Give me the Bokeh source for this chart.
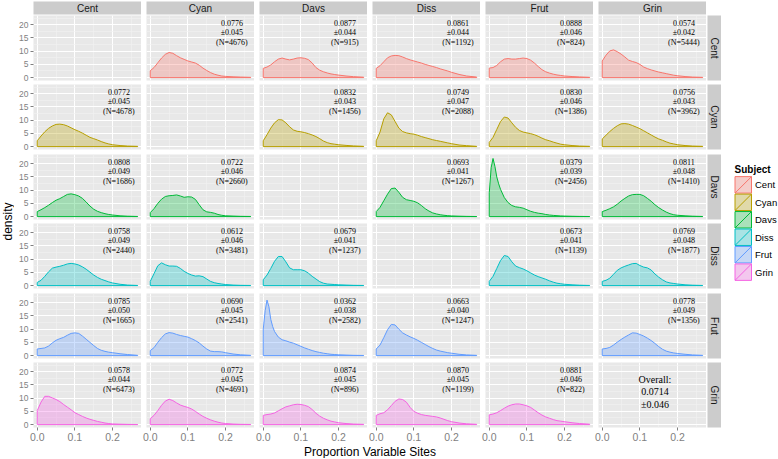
import math
from bokeh.plotting import figure
from bokeh.models import Range1d, FixedTicker, PrintfTickFormatter, GridPlot
from bokeh.core.properties import value
from bokeh.embed import file_html
from bokeh.resources import INLINE

# ---------------- data ----------------
CATS = ["Cent", "Cyan", "Davs", "Diss", "Frut", "Grin"]
COLORS = ["#F8766D", "#B79F00", "#00BA38", "#00BFC4", "#619CFF", "#F564E3"]

X_TICKS = [0.0, 0.1, 0.2]
X_MINOR = [0.05, 0.15, 0.25]
Y_TICKS = [0, 5, 10, 15, 20]
Y_MINOR = [2.5, 7.5, 12.5, 17.5, 22.5]

# common x grid of the density curves (proportion variable sites)
X_GRID = [0.0, 0.01, 0.02, 0.03, 0.04, 0.05, 0.06, 0.07, 0.08, 0.09, 0.10,
          0.11, 0.12, 0.13, 0.14, 0.15, 0.16, 0.17, 0.18, 0.19, 0.20,
          0.22, 0.24, 0.267]
# finer grid for the two very peaked curves
X_FINE = [0.0, 0.005, 0.01, 0.015, 0.02, 0.025, 0.03, 0.04, 0.05, 0.06, 0.07,
          0.08, 0.09, 0.10, 0.11, 0.12, 0.13, 0.14, 0.15, 0.16, 0.17, 0.18,
          0.19, 0.20, 0.22, 0.24, 0.267]

# density values, row facet _ column facet
CENT_CYAN = [2.6, 3.8, 5.6, 7.4, 8.8, 9.5, 9.2, 8.3, 7.5, 6.9, 6.3, 5.9, 5.5, 4.7, 3.6, 2.7, 1.9, 1.3, 0.9, 0.6, 0.45, 0.3, 0.2, 0.1]
CENT_DAVS = [3.5, 4.0, 4.8, 6.0, 7.0, 7.4, 7.0, 6.7, 7.0, 7.4, 7.5, 7.3, 6.8, 5.5, 3.8, 2.8, 2.2, 1.75, 1.4, 1.15, 0.95, 0.6, 0.35, 0.15]
CENT_DISS = [3.5, 4.5, 6.0, 7.5, 8.2, 8.4, 8.3, 7.8, 7.2, 6.7, 6.3, 5.9, 5.5, 5.0, 4.6, 4.2, 3.8, 3.3, 2.9, 2.5, 2.0, 1.2, 0.6, 0.2]
CENT_FRUT = [3.6, 3.8, 4.6, 6.0, 7.0, 7.2, 7.0, 7.0, 7.2, 7.4, 7.2, 6.6, 5.5, 4.2, 3.0, 2.2, 1.7, 1.3, 1.0, 0.8, 0.6, 0.4, 0.25, 0.1]
CENT_GRIN = [6.3, 8.5, 10.1, 10.5, 9.8, 8.9, 7.8, 6.6, 6.1, 5.7, 5.0, 4.0, 3.4, 2.9, 2.5, 2.1, 1.8, 1.5, 1.2, 0.9, 0.7, 0.4, 0.2, 0.1]

CYAN_CENT = [2.2, 4.0, 5.6, 6.9, 7.8, 8.4, 8.5, 8.3, 7.8, 7.1, 6.4, 5.8, 5.1, 4.3, 3.5, 3.0, 2.5, 1.9, 1.4, 1.0, 0.7, 0.4, 0.2, 0.1]
CYAN_DAVS = [2.2, 4.5, 7.0, 9.0, 10.2, 10.1, 9.0, 7.5, 6.3, 5.8, 5.6, 5.3, 4.9, 4.4, 3.8, 3.0, 2.1, 1.5, 1.1, 0.9, 0.7, 0.45, 0.25, 0.1]
CYAN_DISS = [2.2, 5.5, 10.5, 12.8, 12.0, 9.5, 7.0, 5.7, 5.2, 4.9, 4.7, 4.3, 3.8, 3.4, 3.0, 2.6, 2.3, 2.0, 1.7, 1.4, 1.1, 0.6, 0.35, 0.1]
CYAN_FRUT = [1.6, 3.5, 6.5, 9.5, 11.2, 10.8, 9.0, 7.3, 6.1, 5.5, 5.2, 4.9, 4.5, 3.9, 3.2, 2.6, 2.2, 1.7, 1.3, 0.9, 0.7, 0.4, 0.2, 0.1]
CYAN_GRIN = [2.9, 4.3, 5.7, 6.9, 7.9, 8.6, 8.7, 8.5, 8.0, 7.4, 6.8, 6.0, 5.2, 4.4, 3.6, 2.9, 2.4, 1.8, 1.3, 1.0, 0.7, 0.4, 0.2, 0.1]

DAVS_CENT = [1.9, 2.6, 3.4, 4.3, 5.3, 6.2, 6.8, 7.6, 8.4, 8.6, 8.3, 7.8, 6.9, 5.5, 4.0, 2.8, 2.0, 1.5, 1.1, 0.8, 0.6, 0.3, 0.15, 0.05]
DAVS_CYAN = [1.5, 3.0, 5.0, 6.6, 7.6, 7.9, 8.0, 8.2, 7.8, 7.3, 7.5, 7.4, 6.5, 4.5, 2.6, 1.8, 1.6, 1.3, 0.8, 0.5, 0.3, 0.2, 0.1, 0.05]
DAVS_DISS = [1.9, 3.5, 6.0, 8.5, 10.6, 10.8, 9.2, 7.3, 6.4, 6.1, 5.8, 5.2, 4.2, 3.0, 2.1, 1.4, 1.0, 0.7, 0.5, 0.35, 0.25, 0.15, 0.08, 0.03]
DAVS_FRUT = [9.0, 18.5, 22.0, 19.0, 15.0, 12.4, 10.3, 7.2, 5.3, 4.2, 3.7, 3.5, 3.2, 2.6, 2.0, 1.6, 1.3, 1.1, 0.8, 0.6, 0.45, 0.35, 0.25, 0.2, 0.12, 0.07, 0.03]
DAVS_GRIN = [1.9, 2.4, 3.0, 3.7, 4.7, 5.9, 6.9, 7.8, 8.3, 8.4, 8.4, 7.9, 6.9, 5.8, 4.5, 3.4, 2.5, 1.7, 1.1, 0.7, 0.5, 0.3, 0.15, 0.05]

DISS_CENT = [1.2, 2.0, 3.5, 5.2, 6.6, 7.0, 7.3, 7.7, 8.2, 8.4, 8.2, 7.8, 7.1, 6.2, 5.1, 4.0, 3.1, 2.4, 1.9, 1.4, 1.0, 0.5, 0.2, 0.05]
DISS_CYAN = [1.6, 4.5, 7.5, 8.6, 7.9, 7.4, 7.4, 7.3, 6.5, 5.4, 4.6, 4.0, 3.6, 3.7, 3.4, 2.5, 1.6, 1.1, 0.8, 0.6, 0.4, 0.2, 0.1, 0.05]
DISS_DAVS = [2.2, 4.0, 6.5, 9.2, 11.0, 11.0, 9.0, 6.7, 6.0, 6.0, 6.0, 5.6, 4.7, 3.5, 2.5, 1.5, 0.9, 0.6, 0.5, 0.4, 0.3, 0.2, 0.1, 0.05]
DISS_FRUT = [1.6, 3.5, 6.5, 9.5, 11.4, 11.0, 9.0, 7.4, 6.8, 6.3, 5.6, 4.8, 4.0, 3.4, 2.9, 2.4, 1.8, 1.3, 0.9, 0.7, 0.5, 0.3, 0.15, 0.05]
DISS_GRIN = [1.6, 2.0, 2.8, 4.3, 5.8, 6.7, 7.3, 7.8, 8.3, 8.4, 7.6, 7.0, 6.7, 5.9, 4.4, 3.2, 2.2, 1.4, 1.0, 0.8, 0.6, 0.3, 0.15, 0.05]

FRUT_CENT = [2.5, 2.7, 2.9, 3.6, 4.8, 5.8, 6.4, 6.9, 7.7, 8.4, 8.6, 8.4, 7.4, 6.2, 5.0, 3.8, 2.7, 2.0, 1.6, 1.3, 1.1, 0.7, 0.4, 0.1]
FRUT_CYAN = [1.9, 3.0, 5.0, 6.8, 8.2, 8.7, 8.5, 8.0, 7.6, 7.3, 7.0, 6.4, 5.7, 4.8, 3.6, 2.5, 1.7, 1.5, 1.5, 1.4, 1.1, 0.6, 0.3, 0.1]
FRUT_DAVS = [10.0, 17.0, 21.0, 18.5, 13.7, 11.0, 9.1, 7.0, 6.0, 5.6, 5.1, 4.7, 4.1, 3.5, 2.9, 2.4, 1.9, 1.5, 1.2, 0.9, 0.7, 0.5, 0.4, 0.3, 0.2, 0.1, 0.05]
FRUT_DISS = [2.5, 4.0, 6.8, 9.8, 11.8, 11.6, 10.0, 8.6, 7.8, 7.1, 6.5, 5.8, 5.0, 4.2, 3.4, 2.7, 2.1, 1.7, 1.4, 1.1, 0.9, 0.5, 0.25, 0.1]
FRUT_GRIN = [2.5, 2.7, 3.1, 4.0, 5.1, 6.1, 7.0, 7.8, 8.6, 8.5, 8.0, 7.4, 6.6, 5.7, 4.6, 3.4, 2.4, 1.7, 1.3, 1.0, 0.8, 0.5, 0.25, 0.1]

GRIN_CENT = [5.3, 8.5, 10.7, 10.7, 10.1, 9.5, 8.7, 7.6, 6.6, 5.6, 4.5, 3.8, 3.1, 2.5, 2.0, 1.6, 1.2, 0.9, 0.6, 0.4, 0.25, 0.15, 0.08, 0.03]
GRIN_CYAN = [2.2, 3.5, 5.3, 7.3, 8.9, 9.6, 9.1, 8.2, 7.4, 6.9, 6.5, 5.9, 5.0, 4.0, 3.1, 2.4, 1.8, 1.3, 0.9, 0.6, 0.4, 0.2, 0.1, 0.05]
GRIN_DAVS = [3.5, 3.8, 4.0, 4.4, 5.2, 6.0, 6.7, 7.1, 7.5, 7.7, 7.6, 7.3, 6.8, 5.7, 4.3, 3.2, 2.4, 1.8, 1.3, 1.0, 0.7, 0.4, 0.2, 0.1]
GRIN_DISS = [3.5, 4.1, 4.5, 5.6, 7.2, 8.8, 9.7, 9.5, 8.5, 6.5, 5.0, 4.3, 3.8, 3.5, 3.3, 3.1, 2.9, 2.5, 2.0, 1.5, 1.1, 0.6, 0.3, 0.1]
GRIN_FRUT = [3.7, 4.0, 4.5, 5.3, 6.2, 7.0, 7.5, 7.8, 7.8, 7.5, 7.1, 6.5, 5.5, 4.5, 3.6, 2.9, 2.4, 1.9, 1.5, 1.3, 1.1, 0.7, 0.4, 0.15]

# per-panel statistics (row facet; one entry per column facet)
CENT_MEAN = [None, 0.0776, 0.0877, 0.0861, 0.0888, 0.0574]
CENT_SD = [None, 0.045, 0.044, 0.044, 0.046, 0.042]
CENT_N = [None, 4676, 915, 1192, 824, 5444]
CYAN_MEAN = [0.0772, None, 0.0832, 0.0749, 0.0830, 0.0756]
CYAN_SD = [0.045, None, 0.043, 0.047, 0.046, 0.043]
CYAN_N = [4678, None, 1456, 2088, 1386, 3962]
DAVS_MEAN = [0.0808, 0.0722, None, 0.0693, 0.0379, 0.0811]
DAVS_SD = [0.049, 0.046, None, 0.041, 0.039, 0.048]
DAVS_N = [1686, 2660, None, 1267, 2456, 1410]
DISS_MEAN = [0.0758, 0.0612, 0.0679, None, 0.0673, 0.0769]
DISS_SD = [0.049, 0.046, 0.041, None, 0.041, 0.048]
DISS_N = [2440, 3481, 1237, None, 1139, 1877]
FRUT_MEAN = [0.0785, 0.0690, 0.0362, 0.0663, None, 0.0778]
FRUT_SD = [0.050, 0.045, 0.038, 0.040, None, 0.049]
FRUT_N = [1665, 2541, 2582, 1247, None, 1356]
GRIN_MEAN = [0.0578, 0.0772, 0.0874, 0.0870, 0.0881, None]
GRIN_SD = [0.044, 0.045, 0.045, 0.045, 0.046, None]
GRIN_N = [6473, 4691, 896, 1199, 822, None]
OVERALL_MEAN = 0.0714
OVERALL_SD = 0.046

CURVES = {
    (0, 1): (X_GRID, CENT_CYAN), (0, 2): (X_GRID, CENT_DAVS), (0, 3): (X_GRID, CENT_DISS),
    (0, 4): (X_GRID, CENT_FRUT), (0, 5): (X_GRID, CENT_GRIN),
    (1, 0): (X_GRID, CYAN_CENT), (1, 2): (X_GRID, CYAN_DAVS), (1, 3): (X_GRID, CYAN_DISS),
    (1, 4): (X_GRID, CYAN_FRUT), (1, 5): (X_GRID, CYAN_GRIN),
    (2, 0): (X_GRID, DAVS_CENT), (2, 1): (X_GRID, DAVS_CYAN), (2, 3): (X_GRID, DAVS_DISS),
    (2, 4): (X_FINE, DAVS_FRUT), (2, 5): (X_GRID, DAVS_GRIN),
    (3, 0): (X_GRID, DISS_CENT), (3, 1): (X_GRID, DISS_CYAN), (3, 2): (X_GRID, DISS_DAVS),
    (3, 4): (X_GRID, DISS_FRUT), (3, 5): (X_GRID, DISS_GRIN),
    (4, 0): (X_GRID, FRUT_CENT), (4, 1): (X_GRID, FRUT_CYAN), (4, 2): (X_FINE, FRUT_DAVS),
    (4, 3): (X_GRID, FRUT_DISS), (4, 5): (X_GRID, FRUT_GRIN),
    (5, 0): (X_GRID, GRIN_CENT), (5, 1): (X_GRID, GRIN_CYAN), (5, 2): (X_GRID, GRIN_DAVS),
    (5, 3): (X_GRID, GRIN_DISS), (5, 4): (X_GRID, GRIN_FRUT),
}
STATS = [
    (CENT_MEAN, CENT_SD, CENT_N), (CYAN_MEAN, CYAN_SD, CYAN_N), (DAVS_MEAN, DAVS_SD, DAVS_N),
    (DISS_MEAN, DISS_SD, DISS_N), (FRUT_MEAN, FRUT_SD, FRUT_N), (GRIN_MEAN, GRIN_SD, GRIN_N),
]

# ---------------- layout / style ----------------
YT_W = 14      # y-title column
AX_L = 19      # left axis space
PW = 108       # panel width
GX = 5         # gap between panel columns
RS_GAP = 1
RS_W = 14      # right strip width
LEG_W = 57
TOP_PAD = 1
ST_H = 13      # top strip height
ST_GAP = 1
PH = 65        # panel height
GAPS = [4, 5, 4, 5, 4]   # white gap below panel rows 1..5
AX_B = 17      # bottom axis space
XT_H = 14      # x-title row

PANEL_BG = "#E8E8E8"
MINOR_C = "#F2F2F2"
STRIP_BG = "#CCCCCC"
GREY50 = "#7F7F7F"
SANS = "Liberation Sans"
SERIF = "Liberation Serif"

XR = Range1d(-0.01, 0.277)
YR = Range1d(-1.1, 23.5)

TEXT_X = 0.217
TEXT_Y = [20.7, 16.9, 13.1]
OVER_X = 0.14
OVER_Y = [17.2, 12.6, 7.6]


def bare(p):
    p.background_fill_color = PANEL_BG
    p.border_fill_color = "white"
    p.outline_line_color = None


def style_axis(ax, size):
    ax.axis_line_color = None
    ax.major_tick_line_color = GREY50
    ax.major_tick_in = 0
    ax.major_tick_out = 3
    ax.minor_tick_line_color = None
    ax.major_label_text_color = GREY50
    ax.major_label_text_font = SANS
    ax.major_label_text_font_size = size
    ax.major_label_standoff = 2


def row_bottom(i):
    return AX_B if i == 5 else GAPS[i]


def make_panel(i, j):
    left = j == 0
    bottom = i == 5
    lb = AX_L if left else GX
    bb = row_bottom(i)
    p = figure(width=lb + PW, height=PH + bb, x_range=XR, y_range=YR,
               output_backend="svg", toolbar_location=None,
               x_axis_location="below" if bottom else None,
               y_axis_location="left" if left else None,
               min_border_left=lb, min_border_right=0,
               min_border_top=0, min_border_bottom=bb)
    bare(p)
    p.xgrid.ticker = FixedTicker(ticks=X_TICKS, minor_ticks=X_MINOR)
    p.ygrid.ticker = FixedTicker(ticks=Y_TICKS, minor_ticks=Y_MINOR)
    for g in (p.xgrid, p.ygrid):
        g.grid_line_color = "white"
        g.grid_line_width = 1
        g.minor_grid_line_color = MINOR_C
        g.minor_grid_line_width = 0.6
    if bottom:
        ax = p.xaxis[0]
        ax.ticker = FixedTicker(ticks=X_TICKS)
        ax.formatter = PrintfTickFormatter(format="%.1f")
        style_axis(ax, "10.5px")
    if left:
        ay = p.yaxis[0]
        ay.ticker = FixedTicker(ticks=Y_TICKS)
        ay.formatter = PrintfTickFormatter(format="%d")
        style_axis(ay, "8.5px")

    if (i, j) in CURVES:
        xs, ys = CURVES[(i, j)]
        c = COLORS[i]
        px = [xs[0]] + list(xs) + [xs[-1]]
        py = [0] + list(ys) + [0]
        p.patch(px, py, fill_color=c, fill_alpha=0.3, line_color=c, line_width=1)
        m, s, n = STATS[i][0][j], STATS[i][1][j], STATS[i][2][j]
        p.text(x=[TEXT_X] * 3, y=TEXT_Y,
               text=[f"{m:.4f}", f"\u00b1{s:.3f}", f"(N={n})"],
               text_align="center", text_baseline="middle",
               text_font=value(SERIF), text_font_size="8px", text_color="black")
    if i == 5 and j == 5:
        p.text(x=[OVER_X] * 3, y=OVER_Y,
               text=["Overall:", f"{OVERALL_MEAN:.4f}", f"\u00b1{OVERALL_SD:.3f}"],
               text_align="center", text_baseline="middle",
               text_font=value(SERIF), text_font_size="10px", text_color="black")
    return p


def blank_fig(w, h, xr, yr, **borders):
    f = figure(width=w, height=h, x_range=xr, y_range=yr, output_backend="svg",
               toolbar_location=None, x_axis_location=None, y_axis_location=None,
               **borders)
    f.xgrid.visible = False
    f.ygrid.visible = False
    f.outline_line_color = None
    f.border_fill_color = "white"
    return f


def make_strip_top(j):
    lb = AX_L if j == 0 else GX
    s = blank_fig(lb + PW, TOP_PAD + ST_H + ST_GAP, Range1d(0, 1), Range1d(0, 1),
                  min_border_left=lb, min_border_right=0,
                  min_border_top=TOP_PAD, min_border_bottom=ST_GAP)
    s.background_fill_color = STRIP_BG
    s.text(x=[0.5], y=[0.5], text=[CATS[j]], text_align="center", text_baseline="middle",
           text_font=value(SANS), text_font_size="10px", text_color="#1A1A1A")
    return s


def make_strip_right(i):
    bb = row_bottom(i)
    s = blank_fig(RS_GAP + RS_W, PH + bb, Range1d(0, 1), Range1d(0, 1),
                  min_border_left=RS_GAP, min_border_right=0,
                  min_border_top=0, min_border_bottom=bb)
    s.background_fill_color = STRIP_BG
    s.text(x=[0.5], y=[0.5], text=[CATS[i]], angle=-math.pi / 2,
           text_align="center", text_baseline="middle",
           text_font=value(SANS), text_font_size="10px", text_color="#1A1A1A")
    return s


PANEL_BLOCK = 6 * PH + sum(GAPS)
PANELS_H = PANEL_BLOCK + AX_B
TOTAL_H = TOP_PAD + ST_H + ST_GAP + PANELS_H + XT_H

ytitle = blank_fig(YT_W, PANELS_H, Range1d(0, 1), Range1d(0, 1),
                   min_border_left=0, min_border_right=0,
                   min_border_top=0, min_border_bottom=AX_B)
ytitle.background_fill_color = "white"
ytitle.text(x=[0.5], y=[0.5], text=["density"], angle=math.pi / 2,
            text_align="center", text_baseline="middle",
            text_font=value(SANS), text_font_size="12px", text_color="black")

xtitle = blank_fig(AX_L + 6 * PW + 5 * GX, XT_H, Range1d(0, 1), Range1d(0, 1),
                   min_border_left=AX_L, min_border_right=0,
                   min_border_top=0, min_border_bottom=0)
xtitle.background_fill_color = "white"
xtitle.text(x=[0.5], y=[0.5], text=["Proportion Variable Sites"],
            text_align="center", text_baseline="middle",
            text_font=value(SANS), text_font_size="12px", text_color="black")

# legend drawn with the library's own scales (pixel-like ranges, y downwards)
leg = blank_fig(LEG_W, TOTAL_H, Range1d(0, LEG_W), Range1d(TOTAL_H, 0),
                min_border_left=0, min_border_right=0, min_border_top=0, min_border_bottom=0)
leg.background_fill_color = "white"
KEY = 17.5
LX = 13
TITLE_H = 13
block_center = TOP_PAD + ST_H + ST_GAP + PANEL_BLOCK / 2
leg_top = block_center - (TITLE_H + KEY * len(CATS)) / 2
key_top = leg_top + TITLE_H
tops = [key_top + k * KEY for k in range(len(CATS))]
bots = [t + KEY for t in tops]
leg.text(x=[LX], y=[leg_top + 6], text=["Subject"], text_align="left", text_baseline="middle",
         text_font=value(SANS), text_font_size="10px", text_font_style="bold", text_color="black")
leg.quad(left=[LX] * len(CATS), right=[LX + KEY] * len(CATS), top=tops, bottom=bots,
         fill_color=MINOR_C, line_color="white", line_width=1)
leg.quad(left=[LX + 0.5] * len(CATS), right=[LX + KEY - 0.5] * len(CATS),
         top=[t + 0.5 for t in tops], bottom=[b - 0.5 for b in bots],
         fill_color=COLORS, fill_alpha=0.3, line_color=COLORS, line_width=1)
leg.segment(x0=[LX + 0.5] * len(CATS), y0=[b - 0.5 for b in bots],
            x1=[LX + KEY - 0.5] * len(CATS), y1=[t + 0.5 for t in tops],
            line_color=COLORS, line_width=1)
leg.text(x=[LX + KEY + 3] * len(CATS), y=[t + KEY / 2 for t in tops], text=CATS,
         text_align="left", text_baseline="middle",
         text_font=value(SANS), text_font_size="9.5px", text_color="black")

children = [(ytitle, 1, 0, 6, 1)]
for j in range(6):
    children.append((make_strip_top(j), 0, j + 1))
for i in range(6):
    for j in range(6):
        children.append((make_panel(i, j), i + 1, j + 1))
    children.append((make_strip_right(i), i + 1, 7))
children.append((xtitle, 7, 1, 1, 6))
children.append((leg, 0, 8, 8, 1))

grid = GridPlot(children=children, toolbar_location=None, spacing=0)

open("out.html", "w").write(file_html(grid, INLINE))
